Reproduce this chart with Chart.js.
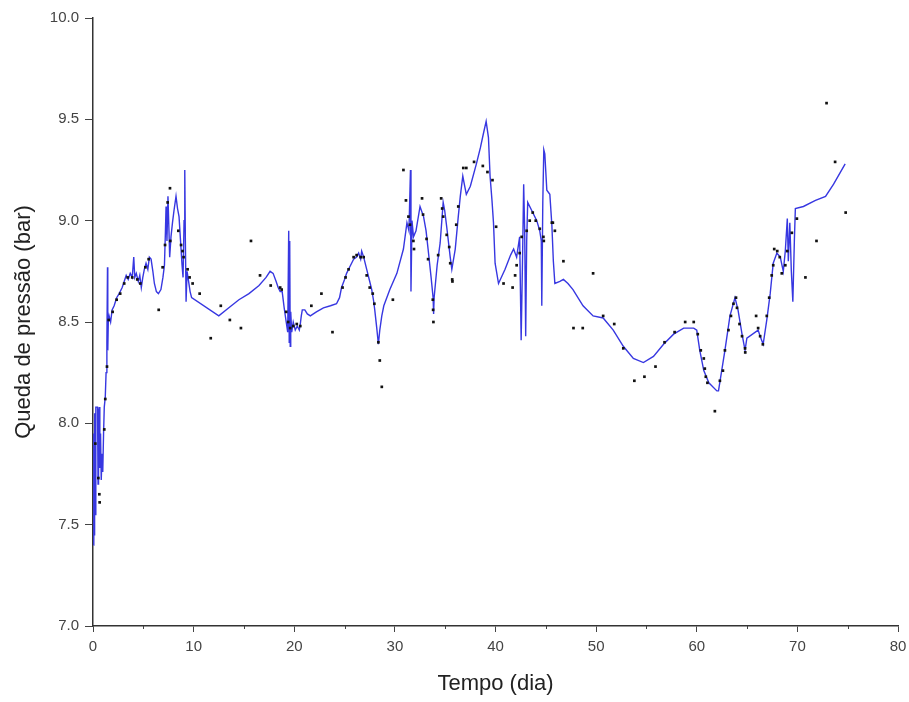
<!DOCTYPE html>
<html>
<head>
<meta charset="utf-8">
<script src="https://cdn.jsdelivr.net/npm/chart.js@4/dist/chart.umd.min.js"></script>
<style>
html, body { margin: 0; padding: 0; background: #fff; }
#wrap { width: 909px; height: 702px; }
</style>
</head>
<body>
<div id="wrap"><canvas id="chart" width="909" height="702"></canvas></div>
<script>
// blue line: measured pressure drop (bar) vs time (days)
const lineDays = [
  0.05, 0.08, 0.12, 0.16, 0.22, 0.28, 0.45, 0.5, 0.55, 0.62, 0.68, 0.75, 0.82, 0.9, 0.97,
  1.05, 1.12, 1.22, 1.3, 1.38, 1.44, 1.47, 1.52, 1.6, 1.75, 1.9, 2.1, 2.35, 2.6, 2.9,
  3.1, 3.3, 3.5, 3.7, 3.9, 4.05, 4.15, 4.3, 4.5, 4.65, 4.8, 4.95, 5.1, 5.27, 5.45,
  5.6, 5.77, 5.95, 6.1, 6.3, 6.5, 6.75, 6.95, 7.1, 7.2, 7.26, 7.35, 7.45, 7.55, 7.62,
  7.75, 7.9, 8.05, 8.25, 8.4, 8.55, 8.7, 8.85, 8.95, 9.05, 9.12, 9.18, 9.25, 9.35, 9.5,
  9.65, 9.8, 12.5, 13.5, 14.5, 15.5, 16.5, 17.2, 17.6, 17.9, 18.2, 18.4, 18.6, 18.8, 19.0,
  19.2, 19.35, 19.45, 19.5, 19.55, 19.6, 19.65, 19.75, 19.9, 20.1, 20.3, 20.5, 20.6, 20.7, 20.8,
  21.05, 21.3, 21.6, 22.2, 22.9, 23.6, 24.2, 24.5, 24.7, 25.0, 25.2, 25.5, 25.9, 26.2, 26.4,
  26.6, 26.7, 26.9, 27.2, 27.5, 27.7, 27.9, 28.0, 28.2, 28.36, 28.5, 28.7, 28.9, 29.5, 30.2,
  30.85, 31.2, 31.4, 31.55, 31.6, 31.7, 31.85, 32.1, 32.5, 32.85, 33.1, 33.3, 33.6, 33.8, 33.85,
  33.9, 34.2, 34.5, 34.8, 34.95, 35.15, 35.5, 35.66, 36.0, 36.3, 36.5, 36.75, 36.9, 37.1, 37.5,
  38.1, 38.5, 38.8, 39.07, 39.3, 39.46, 39.65, 39.8, 39.96, 40.3, 40.95, 41.5, 41.8, 42.1, 42.4,
  42.55, 42.7, 42.8, 42.9, 43.0, 43.1, 43.2, 43.6, 44.1, 44.4, 44.55, 44.6, 44.7, 44.8, 44.9,
  45.1, 45.4, 45.6, 45.75, 45.9, 46.4, 46.75, 47.2, 47.7, 48.7, 49.7, 50.7, 51.7, 52.7, 53.7,
  54.7, 55.7, 56.7, 57.7, 58.7, 59.7, 60.0, 60.3, 60.7, 61.2, 62.0, 62.16, 62.8, 63.3, 63.8,
  64.1, 64.5, 64.8, 64.98, 66.1, 66.3, 66.6, 66.96, 67.3, 67.6, 67.96, 68.3, 68.6, 68.8, 69.0,
  69.1, 69.25, 69.4, 69.55, 69.7, 69.8, 70.6, 71.8, 72.8, 73.6, 74.75
];
const linePressure = [
  7.40, 7.95, 7.45, 8.05, 7.55, 8.08, 8.08, 7.70, 8.05, 8.08, 7.78, 7.95, 7.72, 7.85, 7.76,
  7.95, 8.08, 8.13, 8.25, 8.40, 8.77, 8.36, 8.50, 8.53, 8.50, 8.56, 8.58, 8.62, 8.64, 8.67,
  8.70, 8.73, 8.71, 8.74, 8.72, 8.82, 8.72, 8.74, 8.70, 8.73, 8.67, 8.72, 8.76, 8.79, 8.76,
  8.82, 8.81, 8.75, 8.69, 8.65, 8.64, 8.66, 8.72, 8.78, 8.95, 9.07, 8.90, 9.12, 8.95, 8.82,
  8.92, 8.99, 9.05, 9.12, 9.06, 9.02, 8.90, 8.78, 8.72, 9.00, 9.25, 8.90, 8.60, 8.75, 8.70,
  8.65, 8.62, 8.53, 8.57, 8.61, 8.64, 8.68, 8.72, 8.75, 8.74, 8.70, 8.67, 8.65, 8.65, 8.57,
  8.50, 8.45, 8.95, 8.40, 8.90, 8.38, 8.55, 8.45, 8.50, 8.46, 8.48, 8.46, 8.49, 8.53, 8.56,
  8.56, 8.54, 8.53, 8.55, 8.57, 8.58, 8.59, 8.62, 8.67, 8.71, 8.74, 8.77, 8.81, 8.82, 8.84,
  8.81, 8.85, 8.82, 8.76, 8.70, 8.66, 8.60, 8.56, 8.47, 8.39, 8.46, 8.53, 8.58, 8.66, 8.74,
  8.86, 8.99, 8.95, 9.25, 8.65, 9.00, 8.92, 8.95, 9.07, 9.02, 8.95, 8.86, 8.72, 8.62, 8.54,
  8.62, 8.78, 8.89, 9.09, 9.05, 8.97, 8.82, 8.76, 8.86, 9.02, 9.12, 9.22, 9.18, 9.13, 9.17,
  9.28, 9.36, 9.43, 9.49, 9.41, 9.22, 9.10, 8.99, 8.79, 8.69, 8.76, 8.83, 8.86, 8.82, 8.92,
  8.41, 8.85, 9.18, 8.95, 8.43, 8.90, 9.09, 9.05, 9.00, 8.95, 8.90, 8.58, 9.09, 9.35, 9.33,
  9.15, 9.13, 8.98, 8.80, 8.69, 8.70, 8.71, 8.69, 8.66, 8.58, 8.53, 8.52, 8.46, 8.38, 8.32,
  8.30, 8.33, 8.39, 8.44, 8.47, 8.47, 8.46, 8.36, 8.26, 8.20, 8.16, 8.16, 8.36, 8.53, 8.62,
  8.56, 8.44, 8.36, 8.42, 8.46, 8.43, 8.39, 8.51, 8.64, 8.79, 8.84, 8.82, 8.75, 8.85, 9.01,
  8.80, 8.99, 8.75, 8.60, 8.90, 9.06, 9.07, 9.10, 9.12, 9.18, 9.28
];

// black dots
const dotDays = [
  0.23, 0.53, 0.63, 0.66, 1.12, 1.22, 1.39, 1.56, 1.95, 2.35, 2.7, 3.1, 3.45, 3.9, 4.4,
  4.7, 5.2, 5.53, 6.53, 6.92, 7.16, 7.42, 7.65, 7.68, 8.48, 8.75, 8.9, 9.0, 9.4, 9.6,
  9.9, 10.6, 11.7, 12.7, 13.6, 14.7, 15.7, 16.6, 17.66, 18.6, 18.75, 19.2, 19.4, 19.6, 19.9,
  20.25, 20.6, 21.7, 22.7, 23.8, 24.8, 25.1, 25.4, 25.9, 26.2, 26.6, 26.9, 27.2, 27.5, 27.8,
  27.96, 28.36, 28.5, 28.7, 29.8, 30.85, 31.1, 31.35, 31.5, 31.84, 31.9, 32.7, 32.8, 33.15, 33.3,
  33.77, 33.8, 33.83, 34.3, 34.6, 34.7, 34.8, 35.15, 35.4, 35.5, 35.7, 35.72, 36.1, 36.3, 36.8,
  37.1, 37.87, 38.74, 39.2, 39.7, 40.06, 40.8, 41.7, 41.95, 42.1, 42.4, 42.6, 43.1, 43.4, 43.7,
  44.0, 44.4, 44.76, 44.8, 45.6, 45.7, 45.9, 46.75, 47.75, 48.67, 49.7, 50.7, 51.8, 52.7, 53.8,
  54.8, 55.9, 56.8, 57.8, 58.85, 59.7, 60.1, 60.4, 60.7, 60.8, 60.9, 61.06, 61.8, 62.3, 62.6,
  62.8, 63.15, 63.4, 63.65, 63.9, 64.0, 64.25, 64.5, 64.8, 64.82, 65.9, 66.1, 66.3, 66.57, 66.96,
  67.2, 67.45, 67.6, 67.7, 68.0, 68.25, 68.45, 68.8, 69.0, 69.45, 69.95, 70.8, 71.9, 72.9, 73.75,
  74.8
];
const dotPressure = [
  7.90, 7.73, 7.65, 7.61, 7.97, 8.12, 8.28, 8.51, 8.55, 8.61, 8.64, 8.69, 8.72, 8.72, 8.71,
  8.69, 8.77, 8.81, 8.56, 8.77, 8.88, 9.09, 9.16, 8.90, 8.95, 8.88, 8.85, 8.82, 8.76, 8.72,
  8.69, 8.64, 8.42, 8.58, 8.51, 8.47, 8.90, 8.73, 8.68, 8.67, 8.66, 8.55, 8.50, 8.47, 8.48,
  8.49, 8.48, 8.58, 8.64, 8.45, 8.67, 8.72, 8.76, 8.82, 8.83, 8.82, 8.82, 8.73, 8.67, 8.64,
  8.59, 8.40, 8.31, 8.18, 8.61, 9.25, 9.10, 9.02, 8.98, 8.90, 8.86, 9.11, 9.03, 8.91, 8.81,
  8.61, 8.56, 8.50, 8.83, 9.11, 9.06, 9.02, 8.93, 8.87, 8.79, 8.71, 8.70, 8.98, 9.07, 9.26,
  9.26, 9.29, 9.27, 9.24, 9.20, 8.97, 8.69, 8.67, 8.73, 8.78, 8.84, 8.92, 8.95, 9.00, 9.04,
  9.00, 8.96, 8.92, 8.90, 8.99, 8.99, 8.95, 8.80, 8.47, 8.47, 8.74, 8.53, 8.49, 8.37, 8.21,
  8.23, 8.28, 8.40, 8.45, 8.50, 8.50, 8.44, 8.36, 8.32, 8.27, 8.23, 8.20, 8.06, 8.21, 8.26,
  8.36, 8.46, 8.53, 8.59, 8.62, 8.57, 8.49, 8.43, 8.37, 8.35, 8.53, 8.47, 8.43, 8.39, 8.53,
  8.62, 8.73, 8.78, 8.86, 8.85, 8.82, 8.74, 8.78, 8.85, 8.94, 9.01, 8.72, 8.90, 9.58, 9.29,
  9.04
];

const xTickLabels = [0, 10, 20, 30, 40, 50, 60, 70, 80];
const xMinorTicks = [5, 15, 25, 35, 45, 55, 65, 75];
const yTickLabels = [7.0, 7.5, 8.0, 8.5, 9.0, 9.5, 10.0];

const toPoints = (xs, ys) => {
    let pts = [];
    for (let i = 0; i < xs.length; i++) {
        pts.push({x: xs[i], y: ys[i]});
    }
    return pts;
}

const minorTicks = {
    id: 'minorTicks',
    afterDraw(chart) {
        const ctx = chart.ctx;
        const xs = chart.scales.x;
        const bottom = chart.chartArea.bottom;
        ctx.save();
        ctx.strokeStyle = '#444';
        ctx.lineWidth = 1;
        xMinorTicks.forEach(v => {
            const px = Math.round(xs.getPixelForValue(v)) + 0.5;
            ctx.beginPath();
            ctx.moveTo(px, bottom);
            ctx.lineTo(px, bottom + 3);
            ctx.stroke();
        });
        ctx.restore();
    }
};

const tickFont = {family: "'Liberation Sans', Arial, sans-serif", size: 15};
const titleFont = {family: "'Liberation Sans', Arial, sans-serif", size: 22};

new Chart(document.getElementById('chart'), {
    type: 'scatter',
    data: {
        datasets: [{
            label: 'pontos',
            data: toPoints(dotDays, dotPressure),
            showLine: false,
            pointStyle: 'rect',
            pointRadius: 1.9,
            borderWidth: 0,
            backgroundColor: '#111'
        }, {
            label: 'medido',
            data: toPoints(lineDays, linePressure),
            showLine: true,
            borderColor: 'rgb(55, 55, 225)',
            borderWidth: 1.4,
            pointRadius: 0,
            tension: 0
        }]
    },
    options: {
        responsive: false,
        animation: false,
        devicePixelRatio: 1,
        layout: {padding: {top: 18, right: 11, left: 0, bottom: 0}},
        plugins: {legend: {display: false}, tooltip: {enabled: false}},
        scales: {
            x: {
                type: 'linear',
                min: 0,
                max: 80,
                afterBuildTicks: s => { s.ticks = xTickLabels.map(v => ({value: v})); },
                afterFit: s => { s.height = 76; s.paddingRight = 0; s.paddingLeft = 0; },
                ticks: {font: tickFont, color: '#444', maxRotation: 0, padding: 6},
                grid: {drawOnChartArea: false, drawTicks: true, tickLength: 6, color: '#444'},
                border: {color: '#333', width: 1.5},
                title: {display: true, text: 'Tempo (dia)', font: titleFont, color: '#222', padding: {bottom: 5}}
            },
            y: {
                type: 'linear',
                min: 7,
                max: 10,
                afterBuildTicks: s => { s.ticks = yTickLabels.map(v => ({value: v})); },
                afterFit: s => { s.width = 93; s.paddingTop = 0; s.paddingBottom = 0; },
                ticks: {font: tickFont, color: '#444', padding: 6, callback: v => v.toFixed(1)},
                grid: {drawOnChartArea: false, drawTicks: true, tickLength: 8, color: '#444'},
                border: {color: '#333', width: 1.5},
                title: {display: true, text: 'Queda de pressão (bar)', font: titleFont, color: '#222', padding: {top: 11}}
            }
        }
    },
    plugins: [minorTicks]
});
</script>
</body>
</html>
